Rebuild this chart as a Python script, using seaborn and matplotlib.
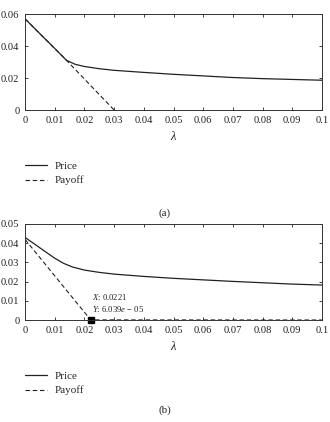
import matplotlib
matplotlib.use("Agg")
import matplotlib.pyplot as plt
import seaborn as sns
import pandas as pd

sns.set_theme(style="ticks")
plt.rcParams['font.family'] = ['Liberation Serif', 'DejaVu Serif']
plt.rcParams['mathtext.fontset'] = 'custom'
plt.rcParams['mathtext.it'] = 'Liberation Serif:italic'
plt.rcParams['mathtext.rm'] = 'Liberation Serif'

# Panel (a)
a_price_x = [0, 0.005, 0.01, 0.014, 0.017, 0.02, 0.025, 0.03, 0.04, 0.05, 0.06, 0.07, 0.08, 0.09, 0.1]
a_price_y = [0.057, 0.0477, 0.0385, 0.031, 0.0285, 0.0272, 0.0258, 0.0248, 0.0235, 0.0223, 0.0213, 0.0203, 0.0196, 0.0191, 0.0186]
a_pay_x = [0, 0.014, 0.030]
a_pay_y = [0.057, 0.031, 0.0]

# Panel (b)
b_price_x = [0, 0.003, 0.006, 0.01, 0.013, 0.016, 0.02, 0.025, 0.03, 0.04, 0.05, 0.06, 0.07, 0.08, 0.09, 0.1]
b_price_y = [0.043, 0.0398, 0.0365, 0.0322, 0.0295, 0.0276, 0.0260, 0.0248, 0.0239, 0.0227, 0.0217, 0.0209, 0.0201, 0.0194, 0.0187, 0.0182]
b_pay_x = [0, 0.0221, 0.1]
b_pay_y = [0.042, 0.00006039, 0.0]
mark_x, mark_y = 0.0221, 6.039e-05

x_ticks = [0, 0.01, 0.02, 0.03, 0.04, 0.05, 0.06, 0.07, 0.08, 0.09, 0.1]
x_labels = ["0", "0.01", "0.02", "0.03", "0.04", "0.05", "0.06", "0.07", "0.08", "0.09", "0.1"]
a_yticks = [0, 0.02, 0.04, 0.06]
a_ylabels = ["0", "0.02", "0.04", "0.06"]
b_yticks = [0, 0.01, 0.02, 0.03, 0.04, 0.05]
b_ylabels = ["0", "0.01", "0.02", "0.03", "0.04", "0.05"]

W, H = 330, 422
fig = plt.figure(figsize=(3.3, 4.22), dpi=100)

def frac(l, t, r, b):
    return [l / W, 1 - b / H, (r - l) / W, (b - t) / H]

FS = 7.6

def panel(ax, px, py, qx, qy, yt, yl, ymax):
    df1 = pd.DataFrame({"x": px, "y": py})
    df2 = pd.DataFrame({"x": qx, "y": qy})
    sns.lineplot(data=df1, x="x", y="y", ax=ax, color="#222222", lw=0.9, label="Price")
    sns.lineplot(data=df2, x="x", y="y", ax=ax, color="#222222", lw=0.8,
                 linestyle=(0, (4, 2.5)), label="Payoff")
    ax.set_xlim(0, 0.1)
    ax.set_ylim(0, ymax)
    ax.set_xticks(x_ticks)
    ax.set_xticklabels(x_labels)
    ax.set_yticks(yt)
    ax.set_yticklabels(yl)
    ax.tick_params(direction="in", length=2.5, width=0.6, labelsize=FS, pad=4,
                   top=True, right=True, colors="#222222")
    for s in ax.spines.values():
        s.set_linewidth(0.7)
        s.set_color("#333333")
    ax.set_xlabel(r"$\lambda$", fontsize=9, labelpad=4)
    ax.set_ylabel("")
    ax.legend(loc="upper left", bbox_to_anchor=(0.0, -0.53), frameon=False,
              fontsize=FS + 0.4, handlelength=2.0, handletextpad=0.7,
              labelspacing=0.45, borderaxespad=0, borderpad=0)

ax1 = fig.add_axes(frac(25, 14, 322, 110))
panel(ax1, a_price_x, a_price_y, a_pay_x, a_pay_y, a_yticks, a_ylabels, 0.06)
fig.text(0.5, 1 - 213 / H, "(a)", ha="center", va="center", fontsize=FS + 0.4)

ax2 = fig.add_axes(frac(25, 224, 322, 320))
panel(ax2, b_price_x, b_price_y, b_pay_x, b_pay_y, b_yticks, b_ylabels, 0.05)
ax2.plot([mark_x], [mark_y], marker="s", color="black", ms=4.5, clip_on=False)
ax2.text(0.0225, 0.0105, r"$X$: 0.0221", fontsize=6.2, color="#222222")
ax2.text(0.0225, 0.0042, r"$Y$: 6.039$e$ − 05", fontsize=6.2, color="#222222")
fig.text(0.5, 1 - 410 / H, "(b)", ha="center", va="center", fontsize=FS + 0.4)

fig.savefig("out.png", dpi=100)
